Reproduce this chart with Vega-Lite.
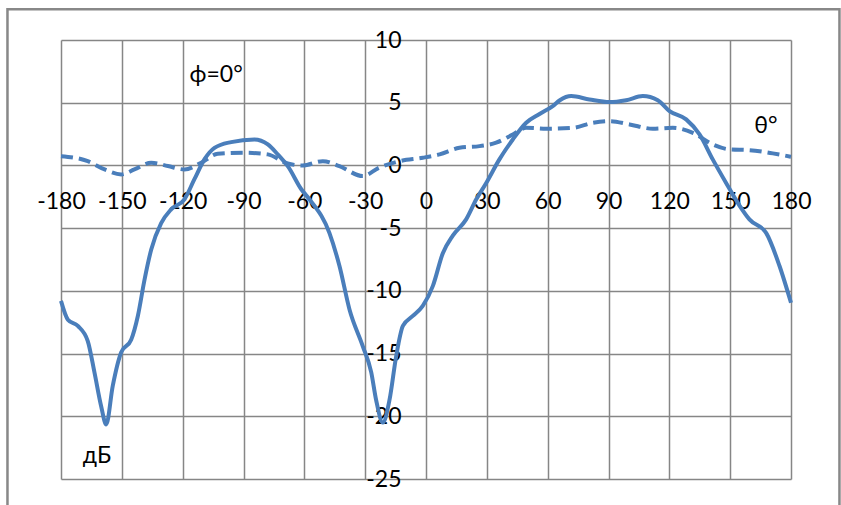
{
  "$schema": "https://vega.github.io/schema/vega-lite/v6.json",
  "width": 730,
  "height": 439,
  "autosize": {"type": "none"},
  "padding": {"left": 61, "top": 40, "right": 50, "bottom": 26},
  "background": "white",
  "config": {
    "view": {"stroke": null},
    "font": "Lato",
    "axis": {"labelFont": "Lato", "labelFontSize": 23, "labelColor": "#000000", "gridColor": "#868686", "gridWidth": 1.5, "gridOpacity": 1}
  },
  "datasets": {
    "solid": [
      {"theta": -180, "dB": -10.8}, {"theta": -176.6, "dB": -12.3}, {"theta": -171.7, "dB": -12.8}, {"theta": -166.8, "dB": -14.0},
      {"theta": -163.5, "dB": -16.5}, {"theta": -160.2, "dB": -19.2}, {"theta": -157.7, "dB": -20.65}, {"theta": -154.5, "dB": -17.6},
      {"theta": -150.3, "dB": -14.9}, {"theta": -145.4, "dB": -13.9}, {"theta": -142.1, "dB": -12.0}, {"theta": -138.8, "dB": -9.1},
      {"theta": -135.5, "dB": -6.7}, {"theta": -130.6, "dB": -4.6}, {"theta": -125.7, "dB": -3.5}, {"theta": -119.1, "dB": -2.7},
      {"theta": -114.2, "dB": -1.1}, {"theta": -109.2, "dB": 0.5}, {"theta": -104.3, "dB": 1.4}, {"theta": -96.1, "dB": 1.86},
      {"theta": -84.6, "dB": 2.07}, {"theta": -78, "dB": 1.67}, {"theta": -73.1, "dB": 0.88}, {"theta": -68, "dB": -0.1},
      {"theta": -61.5, "dB": -1.9}, {"theta": -57.5, "dB": -2.7}, {"theta": -47.6, "dB": -5.4}, {"theta": -42.7, "dB": -8.0},
      {"theta": -37.7, "dB": -11.5}, {"theta": -31.2, "dB": -14.4}, {"theta": -27, "dB": -16.5}, {"theta": -24.6, "dB": -18.7},
      {"theta": -21.3, "dB": -20.5}, {"theta": -18, "dB": -18.7}, {"theta": -14.7, "dB": -15.2}, {"theta": -11.4, "dB": -12.8},
      {"theta": -6.5, "dB": -12.0}, {"theta": -1.6, "dB": -11.2}, {"theta": 3.4, "dB": -9.6}, {"theta": 8.3, "dB": -7.0},
      {"theta": 13.2, "dB": -5.6}, {"theta": 19.8, "dB": -4.3}, {"theta": 24.8, "dB": -2.7}, {"theta": 29.7, "dB": -1.4},
      {"theta": 36.2, "dB": 0.48}, {"theta": 42.8, "dB": 2.07}, {"theta": 49.4, "dB": 3.4}, {"theta": 56, "dB": 4.1},
      {"theta": 62.5, "dB": 4.73}, {"theta": 66, "dB": 5.2}, {"theta": 71.6, "dB": 5.53}, {"theta": 80.6, "dB": 5.26},
      {"theta": 90.5, "dB": 5.05}, {"theta": 98.7, "dB": 5.2}, {"theta": 106.9, "dB": 5.53}, {"theta": 114.3, "dB": 5.2},
      {"theta": 120.1, "dB": 4.33}, {"theta": 128.3, "dB": 3.67}, {"theta": 134.9, "dB": 2.47}, {"theta": 141.4, "dB": 0.48},
      {"theta": 148, "dB": -1.4}, {"theta": 154.6, "dB": -3.2}, {"theta": 159.5, "dB": -4.3}, {"theta": 167.8, "dB": -5.4},
      {"theta": 174.3, "dB": -8.0}, {"theta": 180, "dB": -10.95}
    ],
    "dashed": [
      {"theta": -180, "dB": 0.74}, {"theta": -166.8, "dB": 0.34}, {"theta": -158.5, "dB": -0.32}, {"theta": -150.3, "dB": -0.72},
      {"theta": -143.8, "dB": -0.32}, {"theta": -135.5, "dB": 0.21}, {"theta": -127.3, "dB": -0.05}, {"theta": -119.1, "dB": -0.32},
      {"theta": -110.9, "dB": 0.21}, {"theta": -102.7, "dB": 0.93}, {"theta": -89.5, "dB": 1.01}, {"theta": -78, "dB": 0.88},
      {"theta": -68.2, "dB": 0.15}, {"theta": -60.8, "dB": 0.0}, {"theta": -50.9, "dB": 0.34}, {"theta": -42.7, "dB": -0.05},
      {"theta": -31.2, "dB": -0.85}, {"theta": -23.1, "dB": -0.18}, {"theta": -13.1, "dB": 0.34}, {"theta": -1.6, "dB": 0.61},
      {"theta": 6.7, "dB": 0.88}, {"theta": 16.5, "dB": 1.41}, {"theta": 26.4, "dB": 1.54}, {"theta": 34.6, "dB": 1.81},
      {"theta": 42.8, "dB": 2.47}, {"theta": 49.4, "dB": 3.0}, {"theta": 59.3, "dB": 2.93}, {"theta": 72.4, "dB": 3.0},
      {"theta": 82.3, "dB": 3.4}, {"theta": 90.5, "dB": 3.53}, {"theta": 100.4, "dB": 3.27}, {"theta": 111.8, "dB": 2.93},
      {"theta": 121.7, "dB": 3.0}, {"theta": 131.6, "dB": 2.6}, {"theta": 141.4, "dB": 1.67}, {"theta": 149.6, "dB": 1.28},
      {"theta": 159.5, "dB": 1.22}, {"theta": 171, "dB": 0.96}, {"theta": 180, "dB": 0.69}
    ],
    "labels": [
      {"theta": -103.5, "dB": 7.18, "text": "ϕ=0°"},
      {"theta": 167.6, "dB": 3.13, "text": "θ°"},
      {"theta": -162.2, "dB": -23.18, "text": "дБ"}
    ],
    "frame": [
      {"x1": -206.4, "x2": 203.9, "y1": 12.45, "y2": -27.5}
    ]
  },
  "layer": [
    {
      "data": {"name": "frame"},
      "mark": {"type": "rect", "fill": null, "stroke": "#888888", "strokeWidth": 2.5, "clip": false},
      "encoding": {
        "x": {"field": "x1", "type": "quantitative", "scale": {"domain": [-180, 180], "nice": false, "zero": false},
          "axis": {"values": [-180, -150, -120, -90, -60, -30, 0, 30, 60, 90, 120, 150, 180], "labelExpr": "'' + datum.value", "orient": "bottom", "offset": -313, "domain": false, "ticks": false, "labelPadding": 24, "grid": true, "title": null, "labelFlush": false, "labelOverlap": false}},
        "x2": {"field": "x2"},
        "y": {"field": "y1", "type": "quantitative", "scale": {"domain": [-25, 10], "nice": false, "zero": false},
          "axis": {"values": [-25, -20, -15, -10, -5, 0, 5, 10], "labelExpr": "'' + datum.value", "orient": "left", "offset": -365, "domain": false, "ticks": false, "labelPadding": 25, "grid": true, "title": null, "labelFlush": false, "labelOverlap": false}},
        "y2": {"field": "y2"}
      }
    },
    {
      "data": {"name": "dashed"},
      "mark": {"type": "line", "interpolate": "monotone", "color": "#4a7ebb", "strokeWidth": 4, "strokeDash": [12, 6]},
      "encoding": {
        "x": {"field": "theta", "type": "quantitative"},
        "y": {"field": "dB", "type": "quantitative"}
      }
    },
    {
      "data": {"name": "solid"},
      "mark": {"type": "line", "interpolate": "monotone", "color": "#4a7ebb", "strokeWidth": 4},
      "encoding": {
        "x": {"field": "theta", "type": "quantitative"},
        "y": {"field": "dB", "type": "quantitative"}
      }
    },
    {
      "data": {"name": "labels"},
      "mark": {"type": "text", "font": "Lato", "fontSize": 23, "color": "#000000", "align": "center", "baseline": "middle"},
      "encoding": {
        "x": {"field": "theta", "type": "quantitative"},
        "y": {"field": "dB", "type": "quantitative"},
        "text": {"field": "text"}
      }
    }
  ]
}
